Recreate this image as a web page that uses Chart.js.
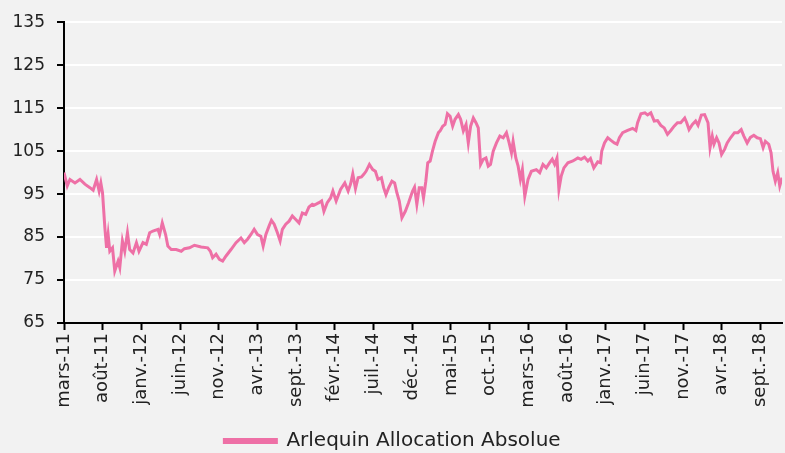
<!DOCTYPE html>
<html>
<head>
<meta charset="utf-8">
<script src="https://cdn.jsdelivr.net/npm/chart.js@4/dist/chart.umd.min.js"></script>
<style>
  html, body { margin: 0; padding: 0; background: #f2f2f2; }
  #wrap { width: 785px; height: 453px; }
</style>
</head>
<body>
<div id="wrap"><canvas id="chart" width="785" height="453"></canvas></div>
<script>
/* données : mois depuis mars-11, valeur base 100 */
const seriesName = 'Arlequin Allocation Absolue';

const tickLabels = ['mars-11', 'août-11', 'janv.-12', 'juin-12', 'nov.-12', 'avr.-13',
  'sept.-13', 'févr.-14', 'juil.-14', 'déc.-14', 'mai-15', 'oct.-15', 'mars-16',
  'août-16', 'janv.-17', 'juin-17', 'nov.-17', 'avr.-18', 'sept.-18'];

const months = [
  0, 0.42, 0.77, 1.42, 2.06, 2.70, 3.35, 3.77, 4.21, 4.54, 4.76, 4.98, 5.28, 5.50, 5.70, 5.92,
  6.27, 6.56, 6.99, 7.21, 7.55, 7.85, 8.20, 8.49, 8.92, 9.36, 9.69, 10.21, 10.64, 11.07, 11.49,
  12.14, 12.36, 12.70, 13.13, 13.42, 13.86, 14.50, 15.15, 15.57, 16.22, 16.86, 17.72, 18.57,
  18.92, 19.21, 19.65, 20.08, 20.50, 20.94, 21.58, 22.23, 22.87, 23.30, 23.72, 24.16, 24.58,
  25.01, 25.44, 25.74, 26.09, 26.51, 26.81, 27.16, 27.58, 27.93, 28.22, 28.66, 29.09, 29.51,
  29.95, 30.37, 30.80, 31.24, 31.66, 32.09, 32.30, 32.95, 33.29, 33.59, 34.02, 34.45, 34.75,
  35.17, 35.74, 36.29, 36.72, 37.03, 37.32, 37.67, 38.01, 38.44, 38.74, 39.03, 39.47, 39.90,
  40.24, 40.58, 41.02, 41.31, 41.61, 41.96, 42.38, 42.73, 43.02, 43.33, 43.67, 44.11, 44.53,
  45.05, 45.30, 45.60, 45.91, 46.24, 46.46, 46.76, 47.01, 47.32, 47.62, 47.97, 48.39, 48.61,
  48.94, 49.25, 49.55, 49.90, 50.23, 50.54, 50.97, 51.26, 51.61, 51.96, 52.25, 52.55, 52.90,
  53.24, 53.54, 53.84, 54.18, 54.53, 54.83, 55.12, 55.47, 55.89, 56.33, 56.76, 57.18, 57.53,
  57.83, 58.04, 58.39, 58.69, 58.98, 59.24, 59.55, 59.97, 60.40, 61.04, 61.48, 61.90, 62.33,
  62.77, 63.10, 63.41, 63.71, 63.96, 64.26, 64.61, 65.12, 65.77, 66.41, 66.83, 67.27, 67.70,
  68.04, 68.47, 68.98, 69.33, 69.50, 69.85, 70.27, 70.69, 71.13, 71.47, 71.78, 72.20, 72.84,
  73.49, 73.91, 74.13, 74.56, 75.07, 75.42, 75.84, 76.28, 76.71, 77.13, 77.57, 77.99, 78.42,
  78.85, 79.28, 79.70, 80.22, 80.48, 80.78, 81.21, 81.63, 81.94, 82.37, 82.79, 83.23, 83.49,
  83.78, 84.00, 84.34, 84.65, 84.98, 85.37, 85.71, 86.14, 86.65, 87.09, 87.52, 87.86, 88.29,
  88.71, 89.15, 89.58, 90.00, 90.35, 90.64, 91.08, 91.38, 91.63, 91.93, 92.24, 92.50, 92.80
];

const values = [
  100.0, 96.9, 98.4, 97.6, 98.4, 97.3, 96.5, 95.9, 98.4, 95.7, 97.6, 95.3, 87.2, 82.5, 85.6, 81.7,
  82.5, 77.1, 79.4, 77.9, 84.1, 81.7, 86.0, 82.1, 81.3, 83.7, 81.7, 83.7, 83.3, 86.0, 86.4,
  86.8, 85.6, 88.3, 85.6, 82.9, 82.1, 82.1, 81.7, 82.3, 82.5, 83.1, 82.7, 82.5,
  81.7, 80.2, 81.0, 79.8, 79.4, 80.6, 82.1, 83.7, 84.8, 83.7, 84.5, 85.6, 86.8,
  85.6, 85.2, 82.9, 85.6, 87.6, 88.9, 88.0, 86.0, 84.1, 86.8, 88.0, 88.7, 89.9,
  89.1, 88.3, 90.6, 90.3, 92.0, 92.6, 92.4, 93.0, 93.4, 91.0, 93.0, 94.1, 95.7,
  93.4, 96.1, 97.6, 95.7, 97.3, 99.7, 96.3, 98.8, 99.0, 99.6, 100.3, 101.9, 100.7,
  100.3, 98.4, 98.8, 96.5, 94.9, 96.5, 98.0, 97.6, 95.3, 93.4, 89.5, 91.0, 93.0,
  95.7, 96.6, 92.6, 96.5, 96.5, 94.1, 98.0, 102.3, 102.7, 105.0, 107.3, 109.3, 109.7,
  110.8, 111.2, 113.7, 113.1, 110.8, 112.4, 113.5, 112.4, 109.7, 111.2, 106.9, 110.8, 112.7,
  111.6, 110.4, 101.9, 103.1, 103.4, 101.5, 101.9, 105.0, 106.9, 108.5, 108.1, 109.3, 106.9,
  104.6, 107.3, 103.4, 101.5, 98.4, 100.7, 94.5, 98.4, 100.3, 100.7, 100.0, 101.9, 101.1,
  102.3, 103.1, 101.9, 103.4, 96.1, 99.2, 101.1, 102.3, 102.7, 103.4, 103.1, 103.6, 102.7,
  103.3, 101.1, 102.5, 102.3, 105.0, 106.9, 108.1, 107.5, 106.9, 106.6, 108.1, 109.3, 109.8,
  110.3, 109.8, 111.6, 113.7, 113.9, 113.4, 113.9, 112.0, 112.1, 111.0, 110.4, 108.9, 109.8,
  110.8, 111.6, 111.6, 112.7, 111.6, 110.0, 111.2, 112.0, 111.0, 113.4, 113.5, 111.6, 105.8,
  108.5, 106.6, 108.1, 106.9, 104.2, 105.4, 106.9, 108.1, 109.3, 109.3, 110.0, 108.5, 106.9,
  108.2, 108.7, 108.1, 107.9, 105.8, 107.3, 106.6, 104.6, 100.3, 98.0, 100.0, 96.9, 98.8
];

const PINK = '#ee70a6';
const FONT = 'DejaVu Sans';

/* fond gris clair ---------------------------------------- */
const bgPlugin = {
  id: 'bg',
  beforeDraw(chart) {
    const ctx = chart.ctx;
    ctx.save();
    ctx.fillStyle = '#f2f2f2';
    ctx.fillRect(0, 0, chart.width, chart.height);
    ctx.restore();
  }
};

new Chart(document.getElementById('chart'), {
  type: 'line',
  data: {
    datasets: [{
      label: seriesName,
      data: months.map((m, i) => ({ x: m, y: values[i] })),
      borderColor: PINK,
      backgroundColor: PINK,
      borderWidth: 3,
      pointRadius: 0,
      tension: 0
    }]
  },
  options: {
    responsive: false,
    animation: false,
    events: [],
    layout: { padding: { top: 21, right: 0, bottom: -8, left: 0 } },
    plugins: {
      legend: {
        position: 'bottom',
        labels: {
          boxWidth: 52, boxHeight: 3, padding: 4,
          color: '#222', font: { family: FONT, size: 20 }
        }
      },
      tooltip: { enabled: false }
    },
    scales: {
      x: {
        type: 'linear',
        min: 0, max: 92.8,
        afterFit: s => { s.height = 104; },
        border: { display: true, color: '#000', width: 2 },
        grid: { drawOnChartArea: false, drawTicks: true, tickLength: 7, tickColor: '#000', tickWidth: 2 },
        ticks: {
          stepSize: 5, includeBounds: false, autoSkip: false,
          maxRotation: 90, minRotation: 90, padding: 3,
          color: '#222', font: { family: FONT, size: 18 },
          callback: v => tickLabels[Math.round(v / 5)] ?? ''
        }
      },
      y: {
        min: 65, max: 135,
        afterFit: s => { s.width = 64; },
        border: { display: true, color: '#000', width: 2 },
        grid: { color: '#fff', lineWidth: 2, drawTicks: true, tickLength: 7, tickColor: '#000', tickWidth: 2 },
        ticks: { stepSize: 10, padding: 12, color: '#222', font: { family: FONT, size: 17 } }
      }
    }
  },
  plugins: [bgPlugin]
});
</script>
</body>
</html>
